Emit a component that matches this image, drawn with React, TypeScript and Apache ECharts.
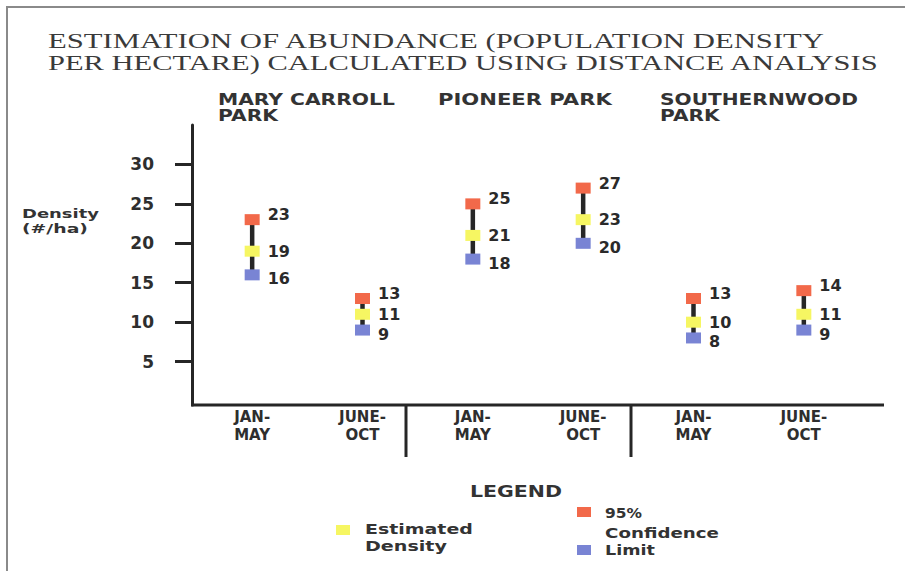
import React, { useEffect, useRef } from "react";
import * as echarts from "echarts";

const categories = ["JAN-\nMAY", "JUNE-\nOCT", "JAN-\nMAY", "JUNE-\nOCT", "JAN-\nMAY", "JUNE-\nOCT"];
const parks = ["MARY CARROLL\nPARK", "PIONEER PARK", "SOUTHERNWOOD\nPARK"];
const upperLimit = [23, 13, 25, 27, 13, 14];
const estimate = [19, 11, 21, 23, 10, 11];
const lowerLimit = [16, 9, 18, 20, 8, 9];
const yTicks = [5, 10, 15, 20, 25, 30];
const titleLines = [
  "ESTIMATION OF ABUNDANCE (POPULATION DENSITY",
  "PER HECTARE) CALCULATED USING DISTANCE ANALYSIS",
];

const RED = "#f2694a";
const YELLOW = "#f6f662";
const BLUE = "#7984d4";
const INK = "#262626";
const BOLD = "DejaVu Sans";

function measure(text: string, font: string): number {
  const c = document.createElement("canvas");
  const ctx = c.getContext("2d");
  if (!ctx) return text.length * 10;
  ctx.font = font;
  return ctx.measureText(text).width;
}

function fitText(text: string, x: number, y: number, size: number, family: string, weight: string, target: number, color: string, align: string = "left") {
  const font = `${weight} ${size}px "${family}"`;
  const w = measure(text, font);
  const s = w > 0 ? target / w : 1;
  return {
    type: "text",
    x,
    y,
    scaleX: s,
    style: {
      text,
      font,
      fill: color,
      align: align,
      verticalAlign: "middle",
    },
    z: 10,
  };
}

export default function App() {
  const ref = useRef<HTMLDivElement>(null);
  useEffect(() => {
    if (!ref.current) return;
    const chart = echarts.init(ref.current, undefined, { renderer: "svg" });

    const parkLines = parks.map((p) => p.split("\n"));
    const parkX = [218, 438, 660];
    const parkW = [177, 174, 198];

    const graphics: any[] = [
      // frame
      { type: "line", shape: { x1: 6, y1: 7, x2: 905, y2: 7 }, style: { stroke: "#8a8a8a", lineWidth: 2 } },
      { type: "line", shape: { x1: 7, y1: 7, x2: 7, y2: 571 }, style: { stroke: "#8a8a8a", lineWidth: 2 } },
      // title
      fitText(titleLines[0], 48, 41, 22, "Liberation Serif", "normal", 778, "#3a3a3a"),
      fitText(titleLines[1], 48, 63, 22, "Liberation Serif", "normal", 832, "#3a3a3a"),
      // y axis name
      fitText("Density", 22, 213, 13, BOLD, "bold", 77, "#333"),
      fitText("(#/ha)", 22, 229, 13, BOLD, "bold", 66, "#333"),
      // x axis line and separators
      { type: "line", shape: { x1: 191, y1: 405, x2: 884, y2: 405 }, style: { stroke: INK, lineWidth: 3 }, z: 5 },
      { type: "line", shape: { x1: 406, y1: 405, x2: 406, y2: 457 }, style: { stroke: INK, lineWidth: 3 }, z: 5 },
      { type: "line", shape: { x1: 631, y1: 405, x2: 631, y2: 457 }, style: { stroke: INK, lineWidth: 3 }, z: 5 },
      // legend
      fitText("LEGEND", 470, 492, 15, BOLD, "bold", 92, "#333"),
      { type: "rect", shape: { x: 336, y: 525, width: 14, height: 10 }, style: { fill: YELLOW } },
      fitText("Estimated", 365, 529, 14, BOLD, "bold", 108, "#333"),
      fitText("Density", 365, 546, 14, BOLD, "bold", 82, "#333"),
      { type: "rect", shape: { x: 577, y: 507, width: 14, height: 10 }, style: { fill: RED } },
      fitText("95%", 605, 513, 14, BOLD, "bold", 37, "#333"),
      fitText("Confidence", 605, 533, 14, BOLD, "bold", 114, "#333"),
      { type: "rect", shape: { x: 577, y: 545, width: 14, height: 10 }, style: { fill: BLUE } },
      fitText("Limit", 605, 550, 14, BOLD, "bold", 50, "#333"),
    ];
    parkLines.forEach((lines, i) => {
      graphics.push(fitText(lines[0], parkX[i], 99, 16, BOLD, "bold", parkW[i], "#333"));
      if (lines[1]) {
        const w1 = measure(lines[0], `bold 16px "${BOLD}"`);
        const w2 = measure(lines[1], `bold 16px "${BOLD}"`);
        graphics.push(fitText(lines[1], parkX[i], 115, 16, BOLD, "bold", parkW[i] * (w2 / w1), "#333"));
      }
    });

    const labelStyle = (dy: number) => ({
      show: true,
      position: "right" as const,
      distance: 8,
      offset: [0, dy],
      fontFamily: BOLD,
      fontWeight: "bold" as const,
      fontSize: 16,
      lineHeight: 16,
      color: "#2a2a2a",
      formatter: (p: any) => String(Array.isArray(p.value) ? p.value[1] : p.value),
    });

    chart.setOption({
      animation: false,
      backgroundColor: "#ffffff",
      grid: { left: 197, top: 125, width: 662, height: 280, containLabel: false },
      xAxis: {
        type: "category",
        data: categories,
        boundaryGap: true,
        axisLine: { show: false },
        axisTick: { show: false },
        splitLine: { show: false },
        axisLabel: {
          margin: 3,
          fontFamily: BOLD,
          fontWeight: "bold",
          fontSize: 15,
          lineHeight: 18,
          color: "#2e2e2e",
          interval: 0,
        },
      },
      yAxis: {
        type: "value",
        min: -0.5,
        max: 35,
        offset: 5,
        splitLine: { show: false },
        axisLine: { show: true, lineStyle: { color: INK, width: 3 } },
        axisTick: { show: true, length: 17, lineStyle: { color: INK, width: 3 }, customValues: yTicks },
        axisLabel: {
          margin: 38,
          fontFamily: BOLD,
          fontWeight: "bold",
          fontSize: 17,
          color: "#2e2e2e",
          customValues: yTicks,
        },
      },
      series: [
        {
          type: "custom",
          name: "range",
          z: 1,
          renderItem: (params: any, api: any) => {
            const x = api.value(0);
            const lo = api.coord([x, api.value(1)]);
            const hi = api.coord([x, api.value(2)]);
            return {
              type: "line",
              shape: { x1: lo[0], y1: lo[1], x2: hi[0], y2: hi[1] },
              style: { stroke: INK, lineWidth: 4.5 },
            };
          },
          data: categories.map((_, i) => [i, lowerLimit[i], upperLimit[i]]),
        },
        {
          type: "scatter",
          name: "95% Confidence Limit (upper)",
          z: 3,
          symbol: "rect",
          symbolSize: [15, 11],
          itemStyle: { color: RED, opacity: 1 },
          label: labelStyle(-5),
          data: upperLimit,
        },
        {
          type: "scatter",
          name: "Estimated Density",
          z: 3,
          symbol: "rect",
          symbolSize: [15, 11],
          itemStyle: { color: YELLOW, opacity: 1 },
          label: labelStyle(0),
          data: estimate,
        },
        {
          type: "scatter",
          name: "95% Confidence Limit (lower)",
          z: 3,
          symbol: "rect",
          symbolSize: [15, 11],
          itemStyle: { color: BLUE, opacity: 1 },
          label: labelStyle(4),
          data: lowerLimit,
        },
      ],
      graphic: graphics,
    });

    return () => chart.dispose();
  }, []);

  return (
    <div
      ref={ref}
      style={{ position: "fixed", left: 0, top: 0, width: 905, height: 571, background: "#fff" }}
    />
  );
}
